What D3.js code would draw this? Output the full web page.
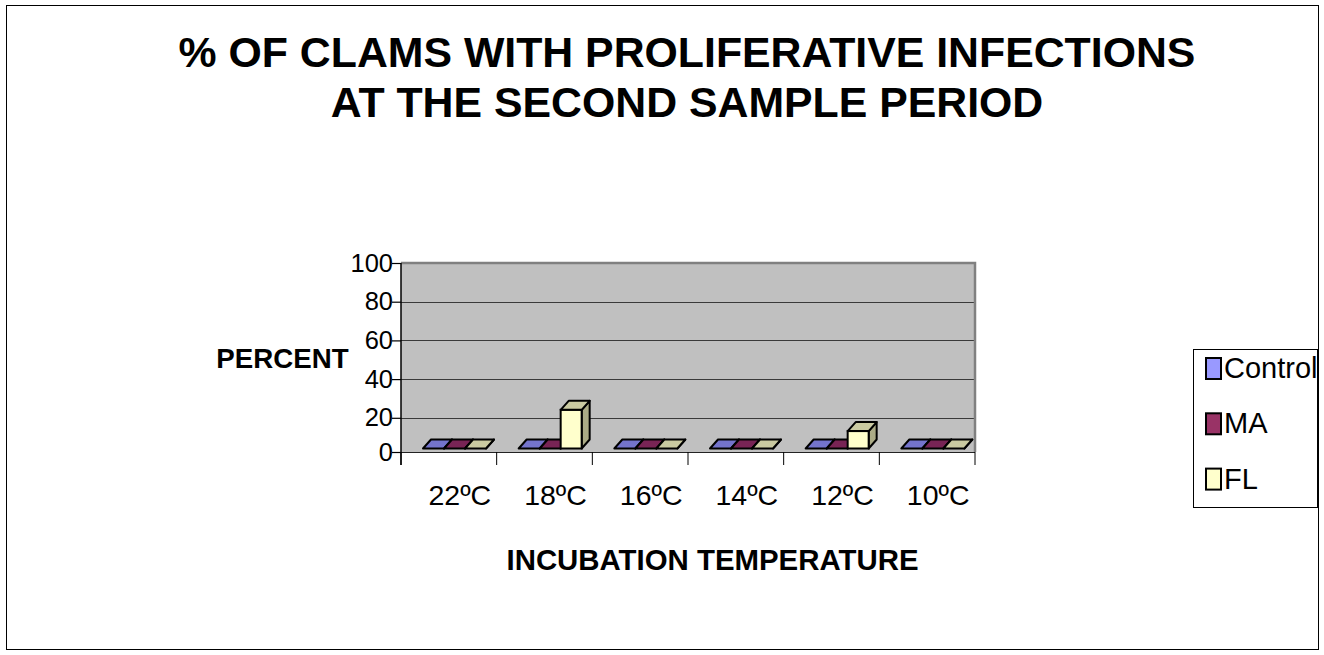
<!DOCTYPE html>
<html>
<head>
<meta charset="utf-8">
<script src="https://cdn.jsdelivr.net/npm/d3@7"></script>
<style>
  body { margin: 0; background: white; }
  text { font-family: Arial, "Liberation Sans", sans-serif; }
</style>
</head>
<body>
<script>
// chart data
var categories = ['22ºC', '18ºC', '16ºC', '14ºC', '12ºC', '10ºC'];
var seriesNames = ['Control', 'MA', 'FL'];
var control = [0, 0, 0, 0, 0, 0];
var ma = [0, 0, 0, 0, 0, 0];
var fl = [0, 20, 0, 0, 9, 0];
var yTicks = [0, 20, 40, 60, 80, 100];

var width = 1324;
var height = 655;

// plot wall
var wallLeft = 401;
var wallRight = 975;
var wallTop = 263;
var axisY = 452;      // front floor edge / category axis
var barBase = 448.5;  // front bottom of the columns
var depthX = 8;       // 3d offset of the column tops
var depthY = 9;

var frontColors = {Control: '#9999FF', MA: '#993366', FL: '#FFFFCC'};
var topColors = {Control: '#7474CC', MA: '#782455', FL: '#CACAA2'};
var sideColors = {Control: '#6060A8', MA: '#5E1C43', FL: '#ABAB86'};

var svg = d3.select('body')
  .append('svg')
    .attr('width', width)
    .attr('height', height);

// outer chart border
svg.append('rect')
  .attr('x', 6.5)
  .attr('y', 5.5)
  .attr('width', 1312)
  .attr('height', 644)
  .style('fill', 'white')
  .style('stroke', 'black')
  .style('stroke-width', 1);

// title
var title = svg.append('text')
  .attr('text-anchor', 'middle')
  .style('font-weight', 'bold')
  .style('font-size', '42.8px');
title.append('tspan').attr('x', 687).attr('y', 67).text('% OF CLAMS WITH PROLIFERATIVE INFECTIONS');
title.append('tspan').attr('x', 687).attr('y', 117).text('AT THE SECOND SAMPLE PERIOD');

// scales
var y = d3.scaleLinear()
  .domain([0, 100])
  .range([456.5, wallTop]);

var yBar = d3.scaleLinear()
  .domain([0, 100])
  .range([barBase, barBase - (y(0) - y(100))]);

var x0 = d3.scaleBand()
  .domain(categories)
  .range([wallLeft, wallRight]);

var x1 = d3.scaleBand()
  .domain(seriesNames)
  .range([22, 85]);

// back wall
svg.append('rect')
  .attr('x', wallLeft)
  .attr('y', wallTop)
  .attr('width', wallRight - wallLeft)
  .attr('height', axisY - wallTop)
  .style('fill', '#C0C0C0');

// gridlines
svg.selectAll('.grid')
  .data(yTicks.filter(function(d) { return d > 0 && d < 100; }))
  .enter()
  .append('line')
    .attr('class', 'grid')
    .attr('x1', wallLeft)
    .attr('x2', wallRight)
    .attr('y1', function(d) { return Math.round(y(d)) + 0.5; })
    .attr('y2', function(d) { return Math.round(y(d)) + 0.5; })
    .style('stroke', '#3a3a3a')
    .style('stroke-width', 1.2);

// wall border top and right
svg.append('path')
  .attr('d', 'M' + wallLeft + ',' + wallTop + 'H' + wallRight + 'V' + axisY)
  .style('fill', 'none')
  .style('stroke', '#808080')
  .style('stroke-width', 2.5);

// category axis line and ticks
svg.append('line')
  .attr('x1', wallLeft).attr('x2', wallRight)
  .attr('y1', axisY + 0.5).attr('y2', axisY + 0.5)
  .style('stroke', '#222')
  .style('stroke-width', 1.2);

svg.selectAll('.xtick')
  .data(categories.concat(['end']))
  .enter()
  .append('line')
    .attr('class', 'xtick')
    .attr('x1', function(d) { return d === 'end' ? wallRight : x0(d); })
    .attr('x2', function(d) { return d === 'end' ? wallRight : x0(d); })
    .attr('y1', axisY)
    .attr('y2', 465)
    .style('stroke', 'black')
    .style('stroke-width', 1);

svg.selectAll('.xlabel')
  .data(categories)
  .enter()
  .append('text')
    .attr('class', 'xlabel')
    .attr('x', function(d) { return x0(d) + x0.bandwidth() / 2 + 11; })
    .attr('y', 505)
    .attr('text-anchor', 'middle')
    .style('font-size', '28.5px')
    .text(function(d) { return d; });

// value axis
var yAxis = svg.append('g')
  .attr('transform', 'translate(' + wallLeft + ',0)')
  .call(d3.axisLeft(y).tickValues(yTicks).tickSize(9).tickPadding(-1));
yAxis.select('.domain').remove();
yAxis.append('line')
  .attr('x1', 0).attr('x2', 0)
  .attr('y1', wallTop).attr('y2', 465)
  .style('stroke', 'black')
  .style('stroke-width', 1.5);
yAxis.selectAll('.tick')
  .filter(function(d) { return d === 0; })
  .attr('transform', 'translate(0,' + (axisY + 0.5) + ')');
yAxis.selectAll('.tick line').style('stroke', 'black').style('stroke-width', 1.2);
yAxis.selectAll('.tick text')
  .style('font-family', 'Arial, "Liberation Sans", sans-serif')
  .style('font-size', '25.5px')
  .style('fill', 'black');

// axis titles
svg.append('text')
  .attr('x', 282.5)
  .attr('y', 368)
  .attr('text-anchor', 'middle')
  .style('font-weight', 'bold')
  .style('font-size', '27.7px')
  .text('PERCENT');

svg.append('text')
  .attr('x', 712.5)
  .attr('y', 570)
  .attr('text-anchor', 'middle')
  .style('font-weight', 'bold')
  .style('font-size', '29.4px')
  .text('INCUBATION TEMPERATURE');

// 3d columns
var values = {Control: control, MA: ma, FL: fl};
var bars = [];
categories.forEach(function(c, i) {
  seriesNames.forEach(function(s) {
    bars.push({cat: c, series: s, value: values[s][i]});
  });
});

var bw = x1.bandwidth();
var col = svg.selectAll('.column')
  .data(bars)
  .enter()
  .append('g')
    .attr('class', 'column');

col.append('path')  // side face
  .attr('d', function(d) {
    var x = x0(d.cat) + x1(d.series) + bw;
    var t = yBar(d.value);
    return 'M' + x + ',' + t + 'l' + depthX + ',' + (-depthY) +
      'V' + (barBase - depthY) + 'L' + x + ',' + barBase + 'Z';
  })
  .style('fill', function(d) { return sideColors[d.series]; })
  .style('stroke', 'black')
  .style('stroke-width', 2)
  .style('stroke-linejoin', 'round');

col.append('rect')  // front face
  .attr('x', function(d) { return x0(d.cat) + x1(d.series); })
  .attr('y', function(d) { return yBar(d.value); })
  .attr('width', bw)
  .attr('height', function(d) { return barBase - yBar(d.value); })
  .style('fill', function(d) { return frontColors[d.series]; })
  .style('stroke', 'black')
  .style('stroke-width', 2);

col.append('path')  // top face
  .attr('d', function(d) {
    var x = x0(d.cat) + x1(d.series);
    var t = yBar(d.value);
    return 'M' + x + ',' + t + 'l' + depthX + ',' + (-depthY) +
      'h' + bw + 'l' + (-depthX) + ',' + depthY + 'Z';
  })
  .style('fill', function(d) { return topColors[d.series]; })
  .style('stroke', 'black')
  .style('stroke-width', 2)
  .style('stroke-linejoin', 'round');

// legend
var legend = svg.append('g');
legend.append('rect')
  .attr('x', 1193.5)
  .attr('y', 349.5)
  .attr('width', 124)
  .attr('height', 158)
  .style('fill', 'white')
  .style('stroke', 'black')
  .style('stroke-width', 1);

var item = legend.selectAll('.item')
  .data(seriesNames)
  .enter()
  .append('g')
    .attr('class', 'item')
    .attr('transform', function(d, i) { return 'translate(1206,' + (358 + i * 55.3) + ')'; });

item.append('rect')
  .attr('width', 15)
  .attr('height', 21)
  .style('fill', function(d) { return frontColors[d]; })
  .style('stroke', 'black')
  .style('stroke-width', 2);

item.append('text')
  .attr('x', 18)
  .attr('y', 20)
  .style('font-size', '29px')
  .text(function(d) { return d; });
</script>
</body>
</html>
